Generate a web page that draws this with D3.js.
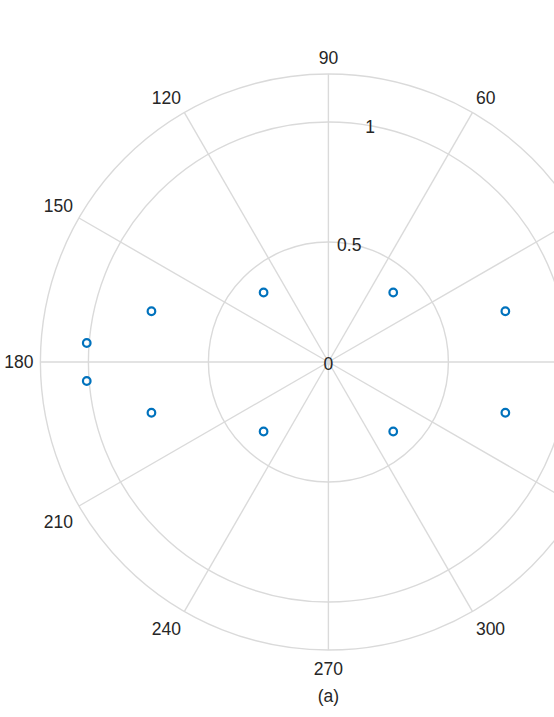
<!DOCTYPE html>
<html>
<head>
<meta charset="utf-8">
<script src="https://cdn.jsdelivr.net/npm/d3@7"></script>
<style>
  body { margin: 0; background: #fff; }
  text { font-family: "Liberation Sans", Arial, sans-serif; fill: #262626; }
</style>
</head>
<body>
<div id="chart"></div>
<script>
// data (angle in degrees, radius)
const thetaDeg = [16, 47, 133, 164, 175.5, 184.5, 196, 227, 313, 344];
const rValues = [0.767, 0.396, 0.396, 0.767, 1.01, 1.01, 0.767, 0.396, 0.396, 0.767];
const rTicks = [0, 0.5, 1];
const thetaTicks = [0, 30, 60, 90, 120, 150, 180, 210, 240, 270, 300, 330];
const rMax = 1.2;
const caption = '(a)';

const lineColor = '#0072BD';
const gridColor = '#dadada';

function drawPolar() {
    const width = 554, height = 717;
    const cx = 328.4, cy = 362;
    const outer = 288;

    const svg = d3.select('#chart')
        .append('svg')
        .attr('width', width)
        .attr('height', height);

    const r = d3.scaleLinear().domain([0, rMax]).range([0, outer]);
    const rad = d => d * Math.PI / 180;

    const g = svg.append('g').attr('transform', `translate(${cx}, ${cy})`);

    // rings
    g.selectAll('.ring')
        .data(rTicks.filter(d => d > 0).concat([rMax]))
        .enter()
        .append('circle')
        .attr('class', 'ring')
        .attr('r', d => r(d))
        .attr('fill', 'none')
        .attr('stroke', gridColor)
        .attr('stroke-width', 1.4);

    // spokes
    g.selectAll('.spoke')
        .data(thetaTicks)
        .enter()
        .append('line')
        .attr('class', 'spoke')
        .attr('x1', 0).attr('y1', 0)
        .attr('x2', d => r(rMax) * Math.cos(rad(d)))
        .attr('y2', d => -r(rMax) * Math.sin(rad(d)))
        .attr('stroke', gridColor)
        .attr('stroke-width', 1.4);

    // theta labels: anchored just outside the outer ring, aligned away from it (like matlab)
    const fs = 17.5;
    const labelPos = thetaTicks.map(d => {
        const c = Math.cos(rad(d)), s = Math.sin(rad(d));
        const dist = r(rMax) + 7;
        const w = String(d).length * fs * 0.556;
        let anchor = 'middle', left = -w / 2;
        if (c > 0.01) { anchor = 'start'; left = 0; }
        if (c < -0.01) { anchor = 'end'; left = -w; }
        let dy = 0;
        if (s > 0.01) dy = -9;
        if (s < -0.01) dy = 12;
        return {t: d, x: dist * c, y: -dist * s + dy, anchor: anchor, right: dist * c + left + w};
    }).filter(p => cx + p.right <= width); // the picture is cut at the right edge

    g.selectAll('.tlabel')
        .data(labelPos)
        .enter()
        .append('text')
        .attr('class', 'tlabel')
        .attr('text-anchor', d => d.anchor)
        .attr('dominant-baseline', 'central')
        .style('font-size', fs + 'px')
        .attr('x', d => d.x)
        .attr('y', d => d.y)
        .text(d => d.t);

    // r labels along 80 degrees
    g.selectAll('.rlabel')
        .data(rTicks)
        .enter()
        .append('text')
        .attr('class', 'rlabel')
        .attr('text-anchor', 'middle')
        .attr('dominant-baseline', 'central')
        .style('font-size', fs + 'px')
        .attr('x', d => r(d) * Math.cos(rad(80)))
        .attr('y', d => -r(d) * Math.sin(rad(80)) + 1.5)
        .text(d => d);

    // data points
    const pts = thetaDeg.map((t, i) => ({t: t, r: rValues[i]}));
    g.selectAll('.pt')
        .data(pts)
        .enter()
        .append('circle')
        .attr('class', 'pt')
        .attr('cx', d => r(d.r) * Math.cos(rad(d.t)))
        .attr('cy', d => -r(d.r) * Math.sin(rad(d.t)))
        .attr('r', 3.8)
        .attr('fill', 'none')
        .attr('stroke', lineColor)
        .attr('stroke-width', 2.2);

    svg.append('text')
        .attr('x', cx)
        .attr('y', 696)
        .attr('text-anchor', 'middle')
        .attr('dominant-baseline', 'central')
        .style('font-size', fs + 'px')
        .text(caption);
}

drawPolar();
</script>
</body>
</html>
